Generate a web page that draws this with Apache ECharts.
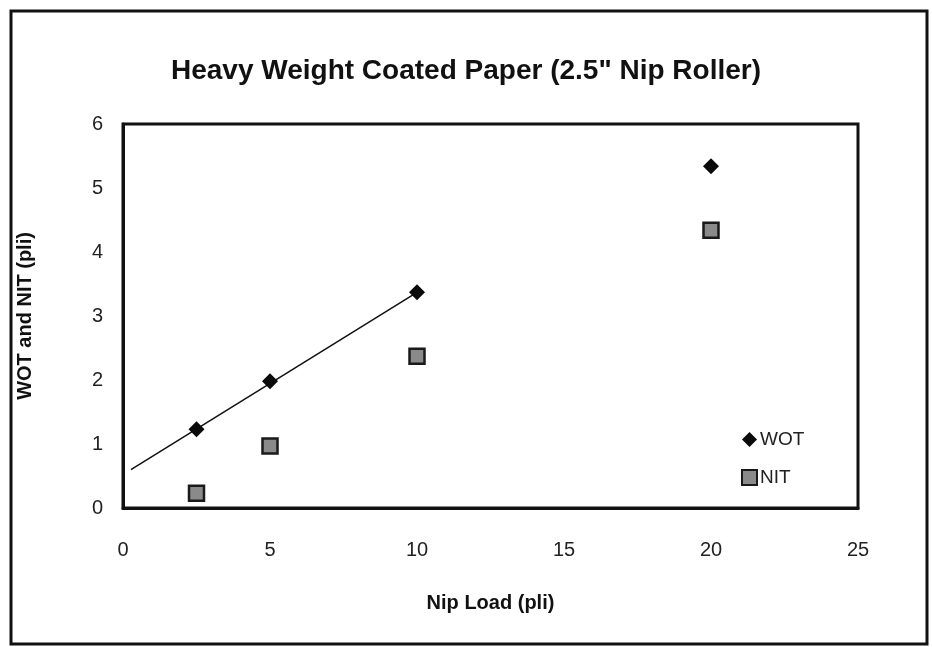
<!DOCTYPE html>
<html><head><meta charset="utf-8">
<script src="https://cdn.jsdelivr.net/npm/echarts@6/dist/echarts.min.js"></script>
<style>html,body{margin:0;padding:0;background:#fff}#c{width:932px;height:647px}</style>
</head><body><div id="c"></div>
<script>
const nipLoad = [2.5, 5, 10, 20];
const wot = [1.23, 1.98, 3.37, 5.34];
const nit = [0.23, 0.97, 2.37, 4.34];
const trendX = [0.27, 10];
const trendY = [0.6, 3.37];

const chart = echarts.init(document.getElementById('c'));
const font = 'Liberation Sans, Arial, sans-serif';
chart.setOption({
  backgroundColor: '#fff',
  animation: false,
  graphic: [{type:'rect', shape:{x:11, y:11, width:916, height:633}, style:{fill:'none', stroke:'#111', lineWidth:3}}],
  title: {text: 'Heavy Weight Coated Paper (2.5" Nip Roller)', left: 'center', top: 52,
    textStyle: {fontFamily: font, fontSize: 28, fontWeight: 'bold', color: '#111'}},
  grid: {left: 123, top: 124, right: 74, bottom: 139, show: true, borderColor: '#111', borderWidth: 3},
  legend: {orient: 'vertical', left: 736, top: 425, itemGap: 19, itemWidth: 15, itemHeight: 15,
    textStyle: {fontFamily: font, fontSize: 19, color: '#222', padding: [0,0,0,-2]},
    data: ['WOT', 'NIT']},
  xAxis: {type: 'value', min: 0, max: 25, interval: 5,
    name: 'Nip Load (pli)', nameLocation: 'middle', nameGap: 85,
    nameTextStyle: {fontFamily: font, fontSize: 20, fontWeight: 'bold', color: '#111'},
    axisLine: {show: true, lineStyle: {color: '#111', width: 3}}, axisTick: {show: false}, splitLine: {show: false},
    axisLabel: {fontFamily: font, fontSize: 20, color: '#222', margin: 32}},
  yAxis: {type: 'value', min: 0, max: 6, interval: 1,
    name: 'WOT and NIT (pli)', nameLocation: 'middle', nameGap: 88,
    nameTextStyle: {fontFamily: font, fontSize: 20, fontWeight: 'bold', color: '#111'},
    axisLine: {show: true, lineStyle: {color: '#111', width: 3}}, axisTick: {show: false}, splitLine: {show: false},
    axisLabel: {fontFamily: font, fontSize: 20, color: '#222', margin: 20}},
  series: [
    {name: 'trend', type: 'line', data: trendX.map((x,i)=>[x, trendY[i]]), symbol: 'none',
      lineStyle: {color: '#111', width: 1.5}, silent: true, z: 1},
    {name: 'WOT', type: 'scatter', data: nipLoad.map((x,i)=>[x, wot[i]]), symbol: 'diamond', symbolSize: 16,
      itemStyle: {color: '#0a0a0a', opacity: 1}, z: 3},
    {name: 'NIT', type: 'scatter', data: nipLoad.map((x,i)=>[x, nit[i]]), symbol: 'rect', symbolSize: 15,
      itemStyle: {color: '#8a8a8a', borderColor: '#1a1a1a', borderWidth: 2.5, opacity: 1}, z: 3}
  ]
});
</script></body></html>
